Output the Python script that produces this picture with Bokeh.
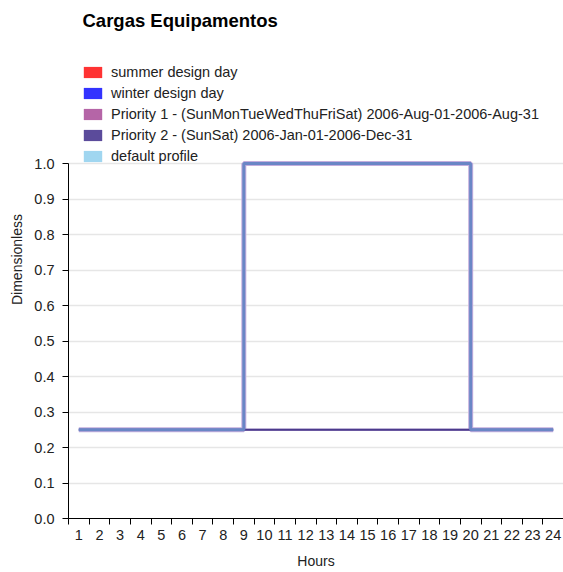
from bokeh.plotting import figure
from bokeh.models import Range1d, FixedTicker, Legend, LegendItem, Label
from bokeh.embed import file_html
from bokeh.resources import INLINE

# ---- data ----
title_text = "Cargas Equipamentos"
x_label = "Hours"
y_label = "Dimensionless"
hours = list(range(1, 25))
hour_labels = [str(h) for h in hours]
y_ticks = [0.0, 0.1, 0.2, 0.3, 0.4, 0.5, 0.6, 0.7, 0.8, 0.9, 1.0]
y_tick_labels = ["0.0", "0.1", "0.2", "0.3", "0.4", "0.5", "0.6", "0.7", "0.8", "0.9", "1.0"]
series_names = [
    "summer design day",
    "winter design day",
    "Priority 1 - (SunMonTueWedThuFriSat) 2006-Aug-01-2006-Aug-31",
    "Priority 2 - (SunSat) 2006-Jan-01-2006-Dec-31",
    "default profile",
]
series_colors = ["#FF3333", "#3333FF", "#B565A7", "#5B4B9B", "#A0D6F0"]
summer_design_day = [0.25, 0.25, 0.25, 0.25, 0.25, 0.25, 0.25, 0.25, 0.25, 0.25, 0.25, 0.25,
                     0.25, 0.25, 0.25, 0.25, 0.25, 0.25, 0.25, 0.25, 0.25, 0.25, 0.25, 0.25]
winter_design_day = [0.25, 0.25, 0.25, 0.25, 0.25, 0.25, 0.25, 0.25, 0.25, 0.25, 0.25, 0.25,
                     0.25, 0.25, 0.25, 0.25, 0.25, 0.25, 0.25, 0.25, 0.25, 0.25, 0.25, 0.25]
priority1 = [0.25, 0.25, 0.25, 0.25, 0.25, 0.25, 0.25, 0.25,
             1.0, 1.0, 1.0, 1.0, 1.0, 1.0, 1.0, 1.0, 1.0, 1.0, 1.0,
             0.25, 0.25, 0.25, 0.25, 0.25]
priority2 = [0.25, 0.25, 0.25, 0.25, 0.25, 0.25, 0.25, 0.25, 0.25, 0.25, 0.25, 0.25,
             0.25, 0.25, 0.25, 0.25, 0.25, 0.25, 0.25, 0.25, 0.25, 0.25, 0.25, 0.25]
default_profile = [0.25, 0.25, 0.25, 0.25, 0.25, 0.25, 0.25, 0.25,
                   1.0, 1.0, 1.0, 1.0, 1.0, 1.0, 1.0, 1.0, 1.0, 1.0, 1.0,
                   0.25, 0.25, 0.25, 0.25, 0.25]
series_values = [summer_design_day, winter_design_day, priority1, priority2, default_profile]

FONT = "Liberation Sans"
PX_PER_UNIT_Y = 355.0   # 1.0 on the y axis spans 355 px
FRAME_H = 518           # frame spans whole top area

p = figure(width=563, height=572, output_backend="svg", toolbar_location=None, title=None,
           x_range=Range1d(0.5, 24.5), y_range=Range1d(0, FRAME_H / PX_PER_UNIT_Y),
           min_border_left=68, min_border_right=0, min_border_top=0, min_border_bottom=54)
p.outline_line_color = None
p.background_fill_color = "white"
p.xgrid.grid_line_color = None
p.ygrid.grid_line_color = "#E6E6E6"
p.ygrid.grid_line_width = 1.5

# series: zero-height step areas carry the legend swatch colour
items = []
for name, col, vals in zip(series_names, series_colors, series_values):
    r = p.varea_step(x=hours, y1=vals, y2=vals, step_mode="after", fill_color=col, fill_alpha=1.0)
    items.append(LegendItem(label=name, renderers=[r]))

# visible lines
p.step(hours, summer_design_day, mode="after", line_color="#C4AEDD", line_width=2)
p.step(hours, winter_design_day, mode="after", line_color="#C4AEDD", line_width=2)
p.step(hours, priority1, mode="after", line_color="#C4AEDD", line_width=5)
p.step(hours, priority2, mode="after", line_color="#4B3A8C", line_width=2)
p.step(hours, default_profile, mode="after", line_color="#6A86C6", line_width=3)

legend = Legend(items=items, location=(13, 354), orientation="vertical",
                glyph_width=23, glyph_height=14, label_height=14, spacing=5,
                label_standoff=7, padding=0, margin=0,
                border_line_color=None, background_fill_alpha=0,
                label_text_font=FONT, label_text_font_size="14.5px", label_text_color="#222222")
p.add_layout(legend, "center")

# title
p.add_layout(Label(x=82, y=FRAME_H - 20, x_units="screen", y_units="screen", text=title_text,
                   text_font=FONT, text_font_size="18.5px", text_font_style="bold",
                   text_baseline="middle", text_align="left", text_color="black",
                   x_offset=-68))

# x axis
xa = p.xaxis[0]
xa.ticker = FixedTicker(ticks=hours, minor_ticks=[h - 0.5 for h in hours])
xa.major_label_overrides = {h: s for h, s in zip(hours, hour_labels)}
xa.major_tick_out = 0
xa.major_tick_in = 0
xa.minor_tick_out = 6
xa.minor_tick_in = 0
xa.minor_tick_line_color = "black"
xa.axis_line_color = "black"
xa.major_label_standoff = 5
xa.major_label_text_font = FONT
xa.major_label_text_font_size = "14.5px"
xa.major_label_text_color = "#222222"
xa.axis_label = x_label
xa.axis_label_text_font = FONT
xa.axis_label_text_font_size = "14px"
xa.axis_label_text_font_style = "normal"
xa.axis_label_text_color = "#222222"
xa.axis_label_standoff = 10

# y axis
ya = p.yaxis[0]
ya.ticker = FixedTicker(ticks=y_ticks, minor_ticks=[])
ya.major_label_overrides = {t: s for t, s in zip(y_ticks, y_tick_labels)}
ya.bounds = (0, 1)
ya.major_tick_out = 6
ya.major_tick_in = 0
ya.major_tick_line_color = "black"
ya.axis_line_color = "black"
ya.major_label_standoff = 8
ya.major_label_text_font = FONT
ya.major_label_text_font_size = "14.5px"
ya.major_label_text_color = "#222222"
ya.axis_label = y_label
ya.axis_label_text_font = FONT
ya.axis_label_text_font_size = "14px"
ya.axis_label_text_font_style = "normal"
ya.axis_label_text_color = "#222222"
ya.axis_label_standoff = 6

open("out.html", "w").write(file_html(p, INLINE))
